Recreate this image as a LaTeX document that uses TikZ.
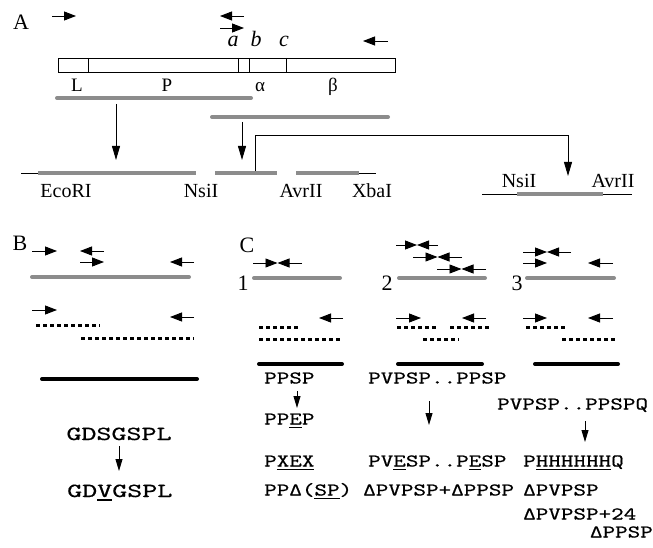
\documentclass[tikz,border=0pt]{standalone}
\usepackage{fontspec}
\setmainfont{Liberation Serif}
\newfontfamily\seqB[FakeStretch=1.43,FakeBold=0.6]{lmmono10-regular.otf}
\newfontfamily\seqC[FakeStretch=1.33,FakeBold=0.6]{lmmono10-regular.otf}
\usetikzlibrary{arrows.meta}
\definecolor{barGray}{HTML}{8C8C8C}
\newsavebox\ulbox
\newcommand\ulx[1]{\sbox\ulbox{#1}\rlap{\rule[-3.5pt]{\wd\ulbox}{1.1pt}}\usebox\ulbox}
\newcommand\btie[3]{\draw[primer] (#1,#3) -- ({(#1+#2)/2},#3); \draw[primer] (#2,#3) -- ({(#1+#2)/2},#3);}
\begin{document}
\begin{tikzpicture}[x=1pt,y=-1pt,
  primer/.style={line width=0.9pt,-{Triangle[length=12pt,width=9pt]}},
  darrow/.style={line width=0.9pt,-{Triangle[length=14pt,width=8pt]}},
  sarrow/.style={line width=0.9pt,-{Triangle[length=12pt,width=7pt]}},
  gbar/.style={draw=barGray,line width=4pt,line cap=round},
  kbar/.style={draw=black,line width=4pt,line cap=round},
  dotline/.style={line width=3pt,dash pattern=on 3.5pt off 3.5pt},
  thinl/.style={line width=0.9pt},
  lab/.style={font=\fontsize{20}{22}\selectfont,inner sep=0pt,anchor=base},
  biglab/.style={font=\fontsize{22}{24}\selectfont,inner sep=0pt,anchor=base},
  seglab/.style={font=\fontsize{19}{21}\selectfont,inner sep=0pt,anchor=base},
  seqc/.style={font=\seqC\fontsize{18}{20}\selectfont,inner sep=0pt,anchor=base west},
  seqb/.style={font=\seqB\fontsize{20}{22}\selectfont,inner sep=0pt,anchor=base west},
]
\path[use as bounding box] (0,0) rectangle (653,548);

% ---------------- Panel A ----------------
\node[biglab] (lA) at (21,30) {A};
\draw[primer] (52,16) -- (76,16);
\draw[primer] (244,16) -- (220,16);
\draw[primer] (220,28) -- (244,28);
\draw[primer] (388,41) -- (363,41);
\node[biglab,font=\fontsize{22}{24}\selectfont\itshape] (la) at (233,47) {a};
\node[biglab,font=\fontsize{22}{24}\selectfont\itshape] (lb) at (256,47) {b};
\node[biglab,font=\fontsize{22}{24}\selectfont\itshape] (lc) at (284,47) {c};
\draw[thinl] (58,58) rectangle (395,72);
\draw[thinl] (88,58) -- (88,72) (238,58) -- (238,72) (249,58) -- (249,72) (286,58) -- (286,72);
\node[seglab] (lL) at (77,92) {L};
\node[seglab] (lP) at (167,92) {P};
\node[seglab] (lal) at (260,92) {α};
\node[seglab] (lbe) at (333,92) {β};
\draw[gbar] (57,98) -- (251,98);
\draw[gbar] (212,117) -- (388,117);
\coordinate (s1) at (116,104);
\coordinate (t1) at (116,160);
\coordinate (s2) at (242,122);
\coordinate (t2) at (242,160);
\draw[darrow] (s1) -- (t1);
\draw[darrow] (s2) -- (t2);
\coordinate (b0) at (255,171);
\coordinate (b3) at (568,176);
\draw[darrow] (b0) -- (255,135) -- (568,135) -- (b3);
% construct line
\draw[thinl] (21,173) -- (38,173);
\draw[thinl] (359,173) -- (376,173);
\draw[gbar,line cap=butt] (38,173) -- (196,173);
\draw[gbar,line cap=butt] (215,173) -- (277,173);
\draw[gbar,line cap=butt] (296,173) -- (359,173);
\node[lab] (eco) at (66,198) {EcoRI};
\node[lab] (nsi1) at (201,198) {NsiI};
\node[lab] (avr1) at (301,198) {AvrII};
\node[lab] (xba) at (372,198) {XbaI};
\draw[thinl] (482,194) -- (632,194);
\draw[gbar,line cap=butt] (517,194) -- (603,194);
\node[lab] (nsi2) at (519,188) {NsiI};
\node[lab] (avr2) at (613,188) {AvrII};

% ---------------- Panel B ----------------
\node[biglab] (lB) at (20,250) {B};
\draw[primer] (32,251) -- (57,251);
\draw[primer] (104,251) -- (80,251);
\draw[primer] (80,262) -- (104,262);
\draw[primer] (194,262) -- (170,262);
\draw[gbar] (32,277) -- (189,277);
\draw[primer] (32,310) -- (57,310);
\draw[primer] (194,317) -- (170,317);
\draw[dotline] (36,325) -- (100,325);
\draw[dotline] (81,338) -- (194,338);
\draw[kbar] (42,379) -- (197,379);
\node[seqb,anchor=base] (gd1) at (119,440) {GDSGSPL};
\node[seqb] (gd2) at (67,497) {GD\ulx{V}GSPL};
\coordinate (bas) at (119,446);
\coordinate (bat) at (119,471);
\draw[sarrow] (bas) -- (bat);

% ---------------- Panel C ----------------
\node[biglab] (lC) at (247,252) {C};
\node[biglab] (n1) at (243,290) {1};
\node[biglab] (n2) at (387,290) {2};
\node[biglab] (n3) at (517,290) {3};
% group 1
\btie{253}{302}{263}
\draw[gbar] (254,278) -- (340,278);
\draw[primer] (343,318) -- (319,318);
\draw[dotline] (259,327) -- (299,327);
\draw[dotline] (259,339) -- (343,339);
\draw[kbar] (259,364) -- (342,364);
% group 2
\btie{396}{438}{245}
\btie{413}{462}{257}
\btie{437}{486}{269}
\draw[gbar] (399,278) -- (485,278);
\draw[primer] (396,318) -- (421,318);
\draw[primer] (486,318) -- (462,318);
\draw[dotline] (397,327) -- (437,327);
\draw[dotline] (450,327) -- (491,327);
\draw[dotline] (423,339) -- (459,339);
\draw[kbar] (398,364) -- (482,364);
% group 3
\btie{523}{571}{252}
\draw[primer] (523,263) -- (547,263);
\draw[primer] (613,263) -- (588,263);
\draw[gbar] (527,278) -- (614,278);
\draw[primer] (523,318) -- (547,318);
\draw[primer] (613,318) -- (588,318);
\draw[dotline] (526,327) -- (566,327);
\draw[dotline] (562,339) -- (618,339);
\draw[kbar] (535,364) -- (618,364);

% sequences
\node[seqc] (c1a) at (264,383.5) {PPSP};
\node[seqc] (c1b) at (264,424.5) {PP\ulx{E}P};
\node[seqc] (c1c) at (264,466.5) {P\ulx{XEX}};
\node[seqc] (c1d) at (264,495.5) {PPΔ(\ulx{SP})};
\coordinate (a1s) at (297,391);
\coordinate (a1t) at (297,408);
\draw[sarrow] (a1s) -- (a1t);

\node[seqc] (c2a) at (368,383.5) {PVPSP..PPSP};
\node[seqc] (c2b) at (368,466.5) {PV\ulx{E}SP..P\ulx{E}SP};
\node[seqc] (c2c) at (363,495.5) {ΔPVPSP+ΔPPSP};
\coordinate (a2s) at (429,401);
\coordinate (a2t) at (429,425);
\draw[sarrow] (a2s) -- (a2t);

\node[seqc] (c3a) at (497,409.5) {PVPSP..PPSPQ};
\node[seqc] (c3b) at (523,466.5) {P\ulx{HHHHHH}Q};
\node[seqc] (c3c) at (523,495.5) {ΔPVPSP};
\node[seqc] (c3d) at (523,519.5) {ΔPVPSP+24};
\node[seqc,anchor=base east] (c3e) at (653,537.5) {ΔPPSP};
\coordinate (a3s) at (585,421);
\coordinate (a3t) at (585,442);
\draw[sarrow] (a3s) -- (a3t);
\end{tikzpicture}
\end{document}
